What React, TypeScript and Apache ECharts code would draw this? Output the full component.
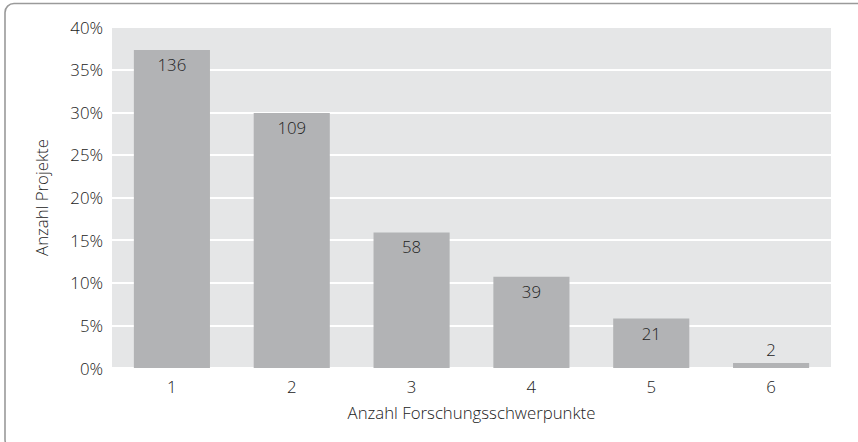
import React, { useEffect, useRef } from "react";
import * as echarts from "echarts";

const categories = ["1", "2", "3", "4", "5", "6"];
const shares = [37.3, 29.9, 15.9, 10.7, 5.8, 0.6];
const counts = [136, 109, 58, 39, 21, 2];
const yTicks = [0, 5, 10, 15, 20, 25, 30, 35, 40];

const FONT = "'Open Sans', 'Noto Sans', sans-serif";
const TXT = "#222222";
const FS = 16.8;

export default function App() {
  const ref = useRef<HTMLDivElement>(null);
  useEffect(() => {
    document.body.style.margin = "0";
    const chart = echarts.init(ref.current!, null, { renderer: "svg" });
    chart.setOption({
      animation: false,
      textStyle: { fontFamily: FONT },
      grid: {
        left: 112,
        right: 27,
        top: 27,
        bottom: 74,
        show: true,
        backgroundColor: "#e5e6e7",
        borderWidth: 0,
      },
      graphic: [
        {
          type: "rect",
          shape: { x: 5, y: 3.5, width: 900, height: 445, r: 9 },
          style: { fill: "none", stroke: "#9a9a9a", lineWidth: 1.6 },
          silent: true,
          z: -1,
        },
      ],
      xAxis: {
        type: "category",
        data: categories,
        name: "Anzahl Forschungsschwerpunkte",
        nameLocation: "middle",
        nameGap: 36,
        nameTextStyle: { fontSize: FS, color: TXT, fontFamily: FONT, fontWeight: 300 },
        axisLine: { show: false },
        axisTick: { show: false },
        axisLabel: { fontSize: FS, color: TXT, margin: 10, fontFamily: FONT, fontWeight: 300 },
      },
      yAxis: {
        type: "value",
        min: 0,
        max: 40,
        interval: 5,
        name: "Anzahl Projekte",
        nameLocation: "middle",
        nameGap: 62,
        nameTextStyle: { fontSize: FS, color: TXT, fontFamily: FONT, fontWeight: 300 },
        axisLine: { show: false },
        axisTick: { show: false },
        axisLabel: {
          fontSize: FS,
          color: TXT,
          margin: 9,
          fontFamily: FONT,
          fontWeight: 300,
          formatter: (v: number) => (yTicks.includes(v) ? v + "%" : ""),
        },
        splitLine: { show: true, lineStyle: { color: "#ffffff", width: 2 } },
      },
      series: [
        {
          type: "bar",
          data: shares.map((s, i) => ({
            value: s,
            label:
              counts[i] < 10
                ? { position: "top", distance: 5 }
                : { position: "insideTop", distance: 6 },
          })),
          barWidth: "63.5%",
          itemStyle: { color: "#b2b3b5" },
          label: {
            show: true,
            color: TXT,
            fontSize: FS,
            fontFamily: FONT,
            fontWeight: 300,
            formatter: (p: any) => String(counts[p.dataIndex]),
          },
        },
      ],
    });
    return () => chart.dispose();
  }, []);
  return <div ref={ref} style={{ width: 858, height: 442 }} />;
}
